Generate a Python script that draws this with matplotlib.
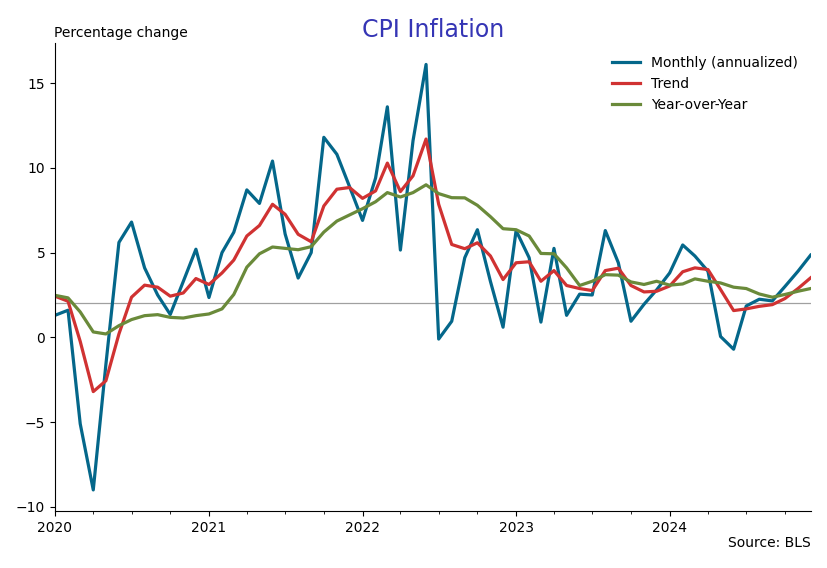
import numpy as np
import pandas as pd
import matplotlib
matplotlib.use("Agg")
import matplotlib.pyplot as plt
import matplotlib.dates as mdates

# Monthly dates, Jan 2020 - Dec 2024
dates = pd.date_range("2020-01-01", "2024-12-01", freq="MS")

# Monthly CPI change, annualized (%)
monthly = [1.3, 1.6, -5.1, -9.0, -1.6, 5.6, 6.8, 4.1, 2.5, 1.35, 3.3, 5.2,
           2.35, 5.0, 6.2, 8.7, 7.9, 10.4, 6.1, 3.5, 5.0, 11.8, 10.8, 8.9,
           6.9, 9.4, 13.6, 5.15, 11.6, 16.1, -0.1, 0.95, 4.7, 6.35, 3.3, 0.6,
           6.3, 4.7, 0.9, 5.25, 1.3, 2.55, 2.5, 6.3, 4.4, 0.95, 1.95, 2.8,
           3.8, 5.45, 4.8, 3.9, 0.05, -0.7, 1.85, 2.25, 2.15, 3.0, 3.9, 4.85]

# Trend (%)
trend = [2.43, 2.13, -0.24, -3.2, -2.56, 0.2, 2.37, 3.08, 2.96, 2.43, 2.62, 3.47,
         3.12, 3.8, 4.56, 5.98, 6.6, 7.85, 7.26, 6.08, 5.64, 7.75, 8.74, 8.84,
         8.2, 8.64, 10.28, 8.6, 9.53, 11.7, 7.85, 5.48, 5.23, 5.58, 4.8, 3.41,
         4.4, 4.46, 3.31, 3.94, 3.06, 2.88, 2.76, 3.94, 4.08, 3.06, 2.68, 2.72,
         3.03, 3.87, 4.1, 4.0, 2.82, 1.58, 1.68, 1.83, 1.93, 2.29, 2.88, 3.51]

# Year-over-year (%)
yoy = [2.48, 2.33, 1.5, 0.32, 0.2, 0.69, 1.05, 1.28, 1.34, 1.18, 1.14, 1.28,
       1.38, 1.68, 2.53, 4.14, 4.93, 5.33, 5.25, 5.17, 5.35, 6.21, 6.86, 7.22,
       7.59, 8.0, 8.54, 8.28, 8.54, 9.0, 8.48, 8.24, 8.23, 7.79, 7.12, 6.41,
       6.35, 5.98, 4.95, 4.93, 4.1, 3.06, 3.31, 3.7, 3.67, 3.27, 3.12, 3.31,
       3.08, 3.15, 3.45, 3.31, 3.21, 2.96, 2.88, 2.56, 2.37, 2.53, 2.72, 2.88]

target = 2.0

fig, ax = plt.subplots(figsize=(8.28, 5.68), dpi=100)
fig.subplots_adjust(left=0.0664, right=0.979, top=0.924, bottom=0.1)

ax.axhline(target, color="#a0a0a0", linewidth=0.9, zorder=1)
ax.plot(dates, monthly, color="#04678a", linewidth=2.3, label="Monthly (annualized)")
ax.plot(dates, trend, color="#d03232", linewidth=2.3, label="Trend")
ax.plot(dates, yoy, color="#6a8a3a", linewidth=2.3, label="Year-over-Year")

ax.set_xlim(dates[0], dates[-1])
ax.xaxis.set_major_locator(mdates.YearLocator())
ax.xaxis.set_major_formatter(mdates.DateFormatter("%Y"))
ax.xaxis.set_minor_locator(mdates.MonthLocator(bymonth=[4, 7, 10]))
ax.set_yticks([-10, -5, 0, 5, 10, 15])
ax.tick_params(labelsize=10)

ax.spines["top"].set_visible(False)
ax.spines["right"].set_visible(False)

ax.legend(loc="upper right", frameon=False, fontsize=10)

ax.set_title("CPI Inflation", color="#3535b5", fontsize=17, pad=0, y=1.0135)
ax.text(-0.001, 1.006, "Percentage change", transform=ax.transAxes,
        fontsize=10, ha="left", va="bottom")
ax.text(1.0, -0.0535, "Source: BLS", transform=ax.transAxes,
        fontsize=10, ha="right", va="top")

plt.savefig("out.png")
